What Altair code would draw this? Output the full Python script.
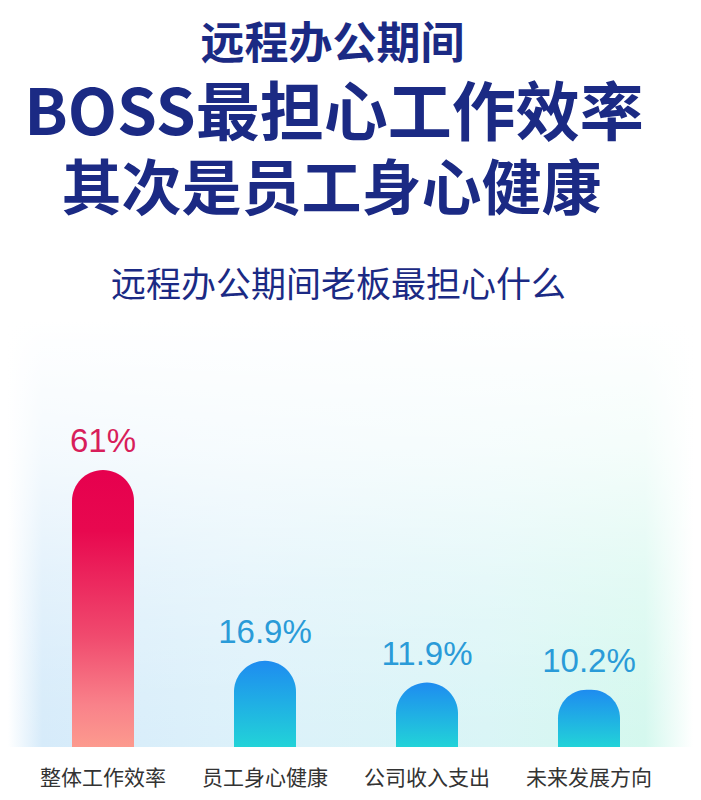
import altair as alt
import pandas as pd

# ---- data ----
categories = ["整体工作效率", "员工身心健康", "公司收入支出", "未来发展方向"]
values = [61, 16.9, 11.9, 10.2]
value_labels = ["61%", "16.9%", "11.9%", "10.2%"]

title_line1 = "远程办公期间"
title_line2 = "BOSS最担心工作效率"
title_line3 = "其次是员工身心健康"
chart_subtitle = "远程办公期间老板最担心什么"

# ---- styling ----
W, H = 685, 784
NAVY = "#1b2a84"
CJK = "Noto Sans CJK SC"
BASELINE = -3

df = pd.DataFrame({"category": categories, "value": values, "label": value_labels})

x_scale = alt.Scale(domain=categories, range=[14, 662], paddingInner=0, paddingOuter=0)
y_scale = alt.Scale(domain=[BASELINE, 61], range=[739, 462], zero=False, nice=False)


def grad(stops, horizontal=False):
    return alt.LinearGradient(
        gradient="linear",
        x1=0, y1=0,
        x2=1 if horizontal else 0,
        y2=0 if horizontal else 1,
        stops=[alt.GradientStop(offset=o, color=c) for o, c in stops],
    )


pink = grad([(0, "#e6004e"), (0.22, "#e8084f"), (0.6, "#f04a6e"), (0.85, "#f9828a"), (1, "#fc9a8e")])
blue = grad([(0, "#1e8cf0"), (1, "#22d3d8")])

bg_color = grad([(0, "#ffffff"), (0.05, "#d6ebfa"), (0.35, "#dcf1fa"),
                 (0.7, "#d9f5f6"), (0.93, "#d4f8ee"), (1, "#ffffff")], horizontal=True)
bg_fade = grad([(0, "rgba(255,255,255,1)"), (0.3, "rgba(255,255,255,0.75)"),
                (0.6, "rgba(255,255,255,0.35)"), (0.85, "rgba(255,255,255,0.1)"),
                (1, "rgba(255,255,255,0)")])

one = pd.DataFrame({"k": [1]})
bg1 = alt.Chart(one).mark_rect(color=bg_color).encode(
    x=alt.value(0), x2=alt.value(W), y=alt.value(312), y2=alt.value(739))
bg2 = alt.Chart(one).mark_rect(color=bg_fade).encode(
    x=alt.value(0), x2=alt.value(W), y=alt.value(312), y2=alt.value(739))

base = alt.Chart(df).encode(
    x=alt.X("category:N", scale=x_scale, axis=None, sort=categories)
)
yenc = alt.Y("value:Q", scale=y_scale, axis=None)

bar_top = base.transform_filter(alt.datum.category == categories[0]).mark_bar(
    width=62, cornerRadiusTopLeft=31, cornerRadiusTopRight=31, color=pink
).encode(y=yenc, y2=alt.Y2(datum=BASELINE))

bar_rest = base.transform_filter(alt.datum.category != categories[0]).mark_bar(
    width=62, cornerRadiusTopLeft=31, cornerRadiusTopRight=31, color=blue
).encode(y=yenc, y2=alt.Y2(datum=BASELINE))

lab_top = base.transform_filter(alt.datum.category == categories[0]).mark_text(
    font="Liberation Sans", fontSize=33, baseline="alphabetic", dy=-18, color="#d81e5b"
).encode(y=yenc, text="label:N")

lab_rest = base.transform_filter(alt.datum.category != categories[0]).mark_text(
    font="Liberation Sans", fontSize=33, baseline="alphabetic", dy=-18, color="#2a9bd8"
).encode(y=yenc, text="label:N")

cat_labels = base.mark_text(
    font=CJK, fontSize=21, color="#333333", baseline="middle"
).encode(y=alt.value(771), text="category:N")


def title_text(txt, x, y, size, weight):
    return alt.Chart(pd.DataFrame({"t": [txt]})).mark_text(
        font=CJK, fontSize=size, fontWeight=weight, color=NAVY, baseline="middle", align="center"
    ).encode(text="t:N", x=alt.value(x), y=alt.value(y))


t1 = title_text(title_line1, 324.5, 37.5, 44, "bold")
t2 = title_text(title_line2, 326, 108, 64, "bold")
t3 = title_text(title_line3, 323.5, 184, 60, "bold")
t4 = title_text(chart_subtitle, 330.5, 278, 35, "normal")

chart = alt.layer(
    bg1, bg2, bar_top, bar_rest, lab_top, lab_rest, cat_labels, t1, t2, t3, t4
).properties(
    width=W, height=H, padding=0, background="white"
).configure_view(stroke=None)

chart.save("out.html", embed_options={"renderer": "svg", "actions": False})
